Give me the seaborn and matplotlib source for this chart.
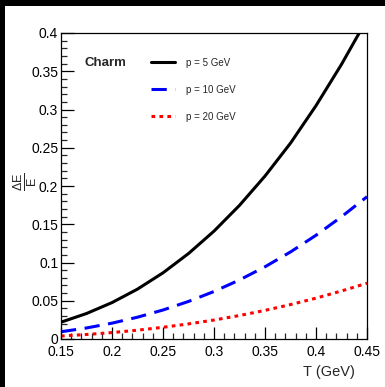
import numpy as np
import pandas as pd
import matplotlib
matplotlib.use("Agg")
import matplotlib.pyplot as plt
from matplotlib.patches import Rectangle
from matplotlib.ticker import MultipleLocator
import seaborn as sns

# Temperature grid (GeV) and relative energy loss for a charm quark
temperature = [0.150, 0.175, 0.200, 0.225, 0.250, 0.275, 0.300,
               0.325, 0.350, 0.375, 0.400, 0.425, 0.450]
loss_p5 = [0.0220, 0.0333, 0.0476, 0.0652, 0.0865, 0.1117, 0.1410,
           0.1747, 0.2130, 0.2560, 0.3050, 0.3590, 0.4180]
loss_p10 = [0.0095, 0.0144, 0.0207, 0.0285, 0.0379, 0.0491, 0.0621,
            0.0772, 0.0944, 0.1138, 0.1356, 0.1598, 0.1860]
loss_p20 = [0.0039, 0.0059, 0.0084, 0.0115, 0.0153, 0.0197, 0.0248,
            0.0307, 0.0374, 0.0450, 0.0534, 0.0628, 0.0729]
series_labels = ["p = 5 GeV", "p = 10 GeV", "p = 20 GeV"]
x_ticks = [0.15, 0.2, 0.25, 0.3, 0.35, 0.4, 0.45]
y_ticks = [0, 0.05, 0.1, 0.15, 0.2, 0.25, 0.3, 0.35, 0.4]

sns.set_style("ticks")
plt.rcParams["font.family"] = ["Liberation Sans", "DejaVu Sans"]
plt.rcParams["mathtext.fontset"] = "custom"
plt.rcParams["mathtext.rm"] = "Liberation Sans"
plt.rcParams["mathtext.it"] = "Liberation Sans"

fig = plt.figure(figsize=(3.85, 3.87), dpi=100)
ax = fig.add_axes([61 / 385, 48 / 387, 306 / 385, 306 / 387])

df = pd.DataFrame({"T": temperature, "p5": loss_p5, "p10": loss_p10, "p20": loss_p20})

styles = [
    ("p5", "black", None, 2.2),
    ("p10", "#0000ff", (5.0, 2.8), 2.2),
    ("p20", "#ff0000", (1.2, 1.4), 2.2),
]
handles = []
for (col, color, dash, lw), lab in zip(styles, series_labels):
    sns.lineplot(data=df, x="T", y=col, ax=ax, color=color, lw=lw, label=lab)
    line = ax.lines[-1]
    if dash is not None:
        line.set_dashes(dash)
    handles.append(line)

ax.set_xlim(0.15, 0.45)
ax.set_ylim(0, 0.4)
ax.set_xticks(x_ticks)
ax.set_xticklabels([f"{v:g}" for v in x_ticks])
ax.set_yticks(y_ticks)
ax.set_yticklabels([f"{v:g}" for v in y_ticks])
ax.xaxis.set_minor_locator(MultipleLocator(0.01))
ax.yaxis.set_minor_locator(MultipleLocator(0.01))
ax.tick_params(axis="both", which="major", direction="in", length=9, width=0.9,
               labelsize=10, colors="black", top=False, right=False)
ax.tick_params(axis="both", which="minor", direction="in", length=4.5, width=0.9,
               top=False, right=False)
ax.tick_params(axis="x", pad=4)
ax.tick_params(axis="y", pad=2)
for sp in ax.spines.values():
    sp.set_linewidth(0.9)
    sp.set_color("black")

ax.set_xlabel("T (GeV)", fontsize=10.5)
ax.xaxis.set_label_coords(0.962, -0.108)
ax.xaxis.label.set(ha="right", va="center")
ax.set_ylabel(r"$\frac{\Delta E}{E}$", fontsize=13)
ax.yaxis.set_label_coords(-0.118, 0.513)
ax.yaxis.label.set(ha="center", va="center")

ax.legend(handles=handles, labels=series_labels, loc="upper left",
          bbox_to_anchor=(0.293, 0.919), frameon=False, fontsize=7,
          handlelength=2.5, handletextpad=1.15, labelspacing=1.75,
          borderpad=0, borderaxespad=0)
ax.text(0.078, 0.903, "Charm", transform=ax.transAxes, fontsize=9.5,
        fontweight="bold", va="center", ha="left")

# dark border along the top and left edge of the canvas
fig.patches.append(Rectangle((0, 1 - 6 / 387), 1, 6 / 387, transform=fig.transFigure,
                             facecolor="black", edgecolor="none", zorder=10))
fig.patches.append(Rectangle((0, 0), 5 / 385, 1, transform=fig.transFigure,
                             facecolor="black", edgecolor="none", zorder=10))

fig.savefig("out.png", dpi=100)
